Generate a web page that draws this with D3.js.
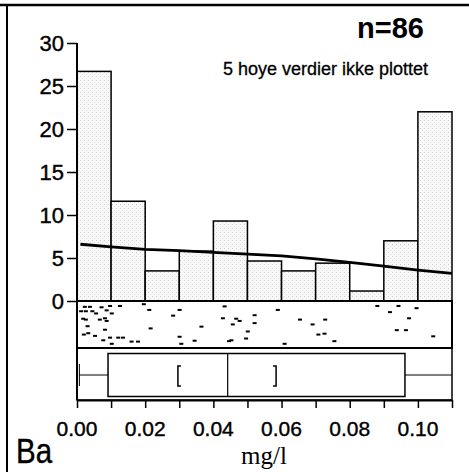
<!DOCTYPE html>
<html>
<head>
<meta charset="utf-8">
<script src="https://cdn.jsdelivr.net/npm/d3@7"></script>
<style>
  html, body { margin: 0; padding: 0; background: #fff; }
  svg { display: block; }
  text { fill: #000; }
</style>
</head>
<body>
<svg id="chart" width="469" height="472"></svg>
<script>
// histogram, percent of samples per 0.01 mg/l bin
const binStart = [0, 0.01, 0.02, 0.03, 0.04, 0.05, 0.06, 0.07, 0.08, 0.09, 0.10];
const binPct = [26.7, 11.6, 3.5, 5.8, 9.3, 4.65, 3.5, 4.4, 1.16, 7.0, 22.0];

// smoothed density line
const curveX = [0.001, 0.01, 0.02, 0.03, 0.04, 0.05, 0.06, 0.07, 0.08, 0.09, 0.10, 0.11];
const curveY = [6.6, 6.3, 6.0, 5.85, 5.65, 5.45, 5.25, 4.9, 4.5, 4.05, 3.6, 3.2];

// jittered strip of single values (x value, vertical jitter 0..1)
const dotX = [0.0023, 0.0038, 0.0072, 0.0097, 0.0126, 0.0196, 0.0212, 0.0301, 0.0026, 0.0056,
  0.0087, 0.0102, 0.0282, 0.0018, 0.0026, 0.0067, 0.0082, 0.0087, 0.0216, 0.0082,
  0.0020, 0.0033, 0.0053, 0.0077, 0.0097, 0.0121, 0.0135, 0.0102, 0.0160, 0.0179,
  0.0301, 0.0306, 0.0345, 0.0433, 0.0428, 0.0467, 0.0477, 0.0521, 0.0521, 0.0457,
  0.0365, 0.0501, 0.0496, 0.0453, 0.0446, 0.0589, 0.0654, 0.0691, 0.0728, 0.0708,
  0.0726, 0.0755, 0.0609, 0.0881, 0.0918, 0.0943, 0.0996, 0.0974, 0.0938, 0.0965,
  0.1045, 0.0012, 0.0045, 0.0031];
const dotJ = [0.11, 0.11, 0.12, 0.09, 0.09, 0.05, 0.18, 0.18, 0.21, 0.26,
  0.19, 0.26, 0.31, 0.38, 0.40, 0.40, 0.37, 0.43, 0.60, 0.63,
  0.74, 0.71, 0.77, 0.87, 0.81, 0.81, 0.81, 0.95, 0.90, 0.90,
  0.79, 0.95, 0.88, 0.10, 0.37, 0.38, 0.43, 0.30, 0.48, 0.51,
  0.56, 0.67, 0.83, 0.87, 0.89, 0.18, 0.40, 0.51, 0.40, 0.74,
  0.72, 0.89, 0.95, 0.09, 0.23, 0.09, 0.14, 0.37, 0.64, 0.64,
  0.78, 0.21, 0.21, 0.55];

// box plot summary
const whiskerLo = 0.0007, q1 = 0.0091, median = 0.0442, q3 = 0.0962, whiskerHi = 0.11;
const ciLo = 0.0296, ciHi = 0.0584;

const yTicks = [0, 5, 10, 15, 20, 25, 30];
const xTicks = [0, 0.01, 0.02, 0.03, 0.04, 0.05, 0.06, 0.07, 0.08, 0.09, 0.10, 0.11];
const xLabels = [0, 0.02, 0.04, 0.06, 0.08, 0.10];

const sans = "'Liberation Sans', Arial, sans-serif";
const narrow = "'Liberation Sans Narrow', 'Arial Narrow', 'Liberation Sans', sans-serif";

const svg = d3.select("#chart");

const x = d3.scaleLinear().domain([0, 0.11]).range([77, 452]);
const y = d3.scaleLinear().domain([0, 30]).range([301, 43]);
const stripTop = 301, stripBottom = 348, boxBottom = 400;
const jit = d3.scaleLinear().domain([0, 1]).range([stripTop + 1, stripBottom - 2]);

// stipple pattern for bars
const defs = svg.append("defs");
const pat = defs.append("pattern")
  .attr("id", "stipple")
  .attr("width", 4).attr("height", 4)
  .attr("patternUnits", "userSpaceOnUse");
pat.append("rect").attr("width", 4).attr("height", 4).attr("fill", "#f8f8f8");
pat.append("rect").attr("x", 0).attr("y", 0).attr("width", 1).attr("height", 1).attr("fill", "#cfcfcf");
pat.append("rect").attr("x", 2).attr("y", 2).attr("width", 1).attr("height", 1).attr("fill", "#e0e0e0");

// page frame
svg.append("line").attr("x1", 0).attr("x2", 469).attr("y1", 5).attr("y2", 5)
  .attr("stroke", "#000").attr("stroke-width", 2.5);
svg.append("line").attr("x1", 7).attr("x2", 7).attr("y1", 5).attr("y2", 472)
  .attr("stroke", "#000").attr("stroke-width", 2);

// bars
svg.append("g").selectAll("rect")
  .data(binStart)
  .join("rect")
  .attr("x", (d) => x(d))
  .attr("y", (d, i) => y(binPct[i]))
  .attr("width", (d) => x(d + 0.01) - x(d))
  .attr("height", (d, i) => y(0) - y(binPct[i]))
  .attr("fill", "url(#stipple)")
  .attr("stroke", "#000")
  .attr("stroke-width", 1.5);

// density line
const line = d3.line().x((d) => x(d)).y((d, i) => y(curveY[i]));
svg.append("path")
  .attr("d", line(curveX))
  .attr("fill", "none")
  .attr("stroke", "#000")
  .attr("stroke-width", 2.8);

// strip and box frames
svg.append("rect")
  .attr("x", x(0)).attr("y", stripTop)
  .attr("width", x(0.11) - x(0)).attr("height", stripBottom - stripTop)
  .attr("fill", "none").attr("stroke", "#000").attr("stroke-width", 2);
svg.append("rect")
  .attr("x", x(0)).attr("y", stripBottom)
  .attr("width", x(0.11) - x(0)).attr("height", boxBottom - stripBottom)
  .attr("fill", "none").attr("stroke", "#000").attr("stroke-width", 1.5);

// strip dots
svg.append("g").selectAll("rect")
  .data(dotX)
  .join("rect")
  .attr("x", (d) => x(d) - 2)
  .attr("y", (d, i) => jit(dotJ[i]) - 1)
  .attr("width", 4).attr("height", 2)
  .attr("fill", "#000");

// box plot
const by = 375;
const box = svg.append("g").attr("stroke", "#000").attr("fill", "none");
box.append("line").attr("x1", x(whiskerLo)).attr("x2", x(q1)).attr("y1", by).attr("y2", by).attr("stroke-width", 1);
box.append("line").attr("x1", x(whiskerLo)).attr("x2", x(whiskerLo)).attr("y1", by - 11).attr("y2", by + 11).attr("stroke-width", 1);
box.append("line").attr("x1", x(q3)).attr("x2", x(whiskerHi)).attr("y1", by).attr("y2", by).attr("stroke-width", 1);
box.append("rect").attr("x", x(q1)).attr("y", 353.5).attr("width", x(q3) - x(q1)).attr("height", 43)
  .attr("stroke-width", 1.5);
box.append("line").attr("x1", x(median)).attr("x2", x(median)).attr("y1", 353.5).attr("y2", 396.5).attr("stroke-width", 1.2);
box.append("path")
  .attr("d", `M${x(ciLo) + 3},366 H${x(ciLo)} V386 H${x(ciLo) + 3}`)
  .attr("stroke-width", 1.5);
box.append("path")
  .attr("d", `M${x(ciHi) - 3},366 H${x(ciHi)} V386 H${x(ciHi) - 3}`)
  .attr("stroke-width", 1.5);

// y axis
const yAxis = svg.append("g")
  .attr("transform", `translate(${x(0)},0)`)
  .call(d3.axisLeft(y).tickValues(yTicks).tickSize(10).tickPadding(3).tickSizeOuter(0));
yAxis.select(".domain").remove();
yAxis.append("line").attr("x1", 0).attr("x2", 0).attr("y1", y(30)).attr("y2", boxBottom)
  .attr("stroke", "#000").attr("stroke-width", 2);
yAxis.selectAll(".tick line").attr("stroke-width", 1.5);
yAxis.selectAll(".tick text")
  .style("font-family", narrow)
  .style("font-size", "22px")
  .attr("fill", "#000")
  .attr("stroke", "#000").attr("stroke-width", 0.4);

// x axis
const xAxis = svg.append("g")
  .attr("transform", `translate(0,${boxBottom})`)
  .call(d3.axisBottom(x).tickValues(xTicks).tickSize(8).tickFormat("").tickSizeOuter(0));
xAxis.select(".domain").attr("stroke-width", 2);
xAxis.selectAll(".tick line").attr("stroke-width", 1.5);
svg.append("g").selectAll("text")
  .data(xLabels)
  .join("text")
  .attr("x", (d) => x(d))
  .attr("y", 436)
  .attr("text-anchor", "middle")
  .style("font-family", sans)
  .style("font-size", "21px")
  .attr("stroke", "#000").attr("stroke-width", 0.4)
  .text((d) => d3.format(".2f")(d));

// annotations
svg.append("text").attr("x", 424).attr("y", 38).attr("text-anchor", "end")
  .style("font-family", sans).style("font-size", "29px").style("font-weight", "bold")
  .text("n=86");
svg.append("text").attr("x", 428).attr("y", 75).attr("text-anchor", "end")
  .style("font-family", sans).style("font-size", "18px")
  .attr("stroke", "#000").attr("stroke-width", 0.3)
  .text("5 hoye verdier ikke plottet");
svg.append("text")
  .attr("transform", "translate(16,463) scale(0.82,1)")
  .style("font-family", sans).style("font-size", "36px")
  .attr("stroke", "#000").attr("stroke-width", 0.4)
  .text("Ba");
svg.append("text").attr("x", 264).attr("y", 464).attr("text-anchor", "middle")
  .style("font-family", "'Liberation Serif', 'Times New Roman', serif")
  .style("font-size", "25px")
  .text("mg/l");
</script>
</body>
</html>
